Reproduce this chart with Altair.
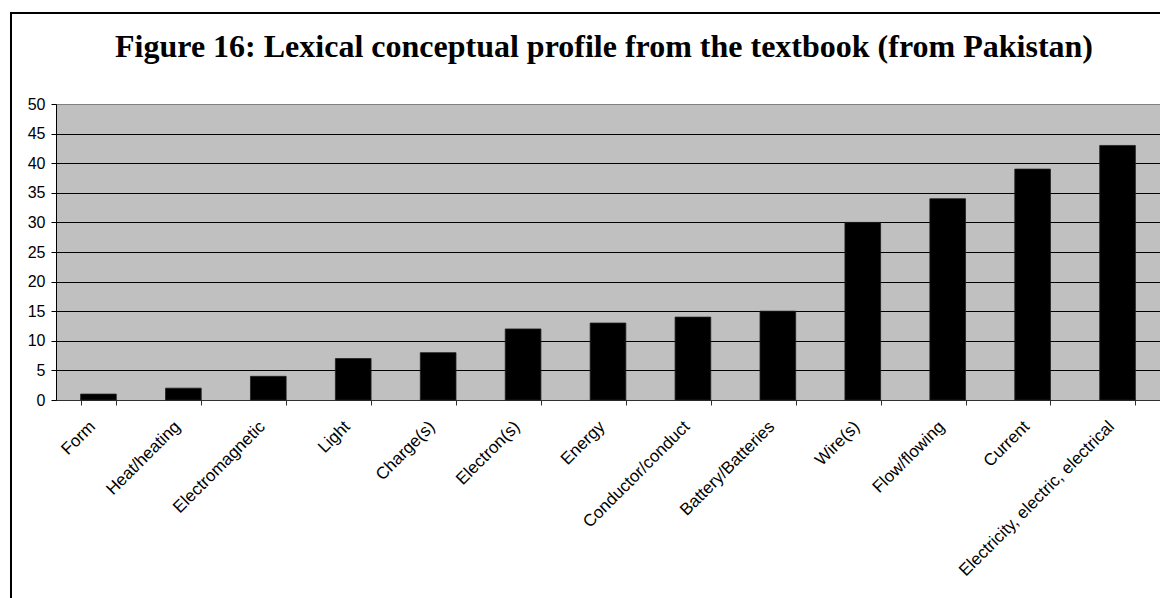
import altair as alt
import pandas as pd

# Word counts per concept
concepts = [
    "Form", "Heat/heating", "Electromagnetic", "Light", "Charge(s)",
    "Electron(s)", "Energy", "Conductor/conduct", "Battery/Batteries",
    "Wire(s)", "Flow/flowing", "Current", "Electricity, electric, electrical",
]
counts = [1, 2, 4, 7, 8, 12, 13, 14, 15, 30, 34, 39, 43]
y_ticks = list(range(0, 51, 5))

df = pd.DataFrame({"concept": concepts, "count": counts})

sans = "Liberation Sans"

bars = alt.Chart(df).mark_bar(
    color="black", stroke="#202020", strokeWidth=0.8
).encode(
    x=alt.X(
        "concept:N",
        sort=concepts,
        title=None,
        scale=alt.Scale(paddingInner=0.58, paddingOuter=0.29),
        axis=alt.Axis(
            labelAngle=-45,
            labelAlign="right",
            labelBaseline="top",
            labelOffset=-12,
            labelPadding=13,
            labelLimit=400,
            labelFont=sans,
            labelFontSize=17,
            labelColor="black",
            tickBand="extent",
            tickSize=5,
            tickColor="#303030",
            domainColor="#303030",
            grid=False,
        ),
    ),
    y=alt.Y(
        "count:Q",
        title=None,
        scale=alt.Scale(domain=[0, 50], nice=False),
        axis=alt.Axis(
            values=y_ticks,
            labelFont=sans,
            labelFontSize=16,
            labelColor="black",
            labelPadding=6,
            tickSize=5,
            tickColor="black",
            domainColor="black",
            gridColor={"condition": {"test": "datum.value == 50", "value": "#808080"}, "value": "black"},
            gridWidth=1,
        ),
    ),
)

# Outer figure frame (left and top edges)
frame_src = alt.Data(values=[{}])
frame_left = alt.Chart(frame_src).mark_rule(color="black", strokeWidth=2).encode(
    x=alt.value(-45), y=alt.value(-91), y2=alt.value(500)
)
frame_top = alt.Chart(frame_src).mark_rule(color="black", strokeWidth=2).encode(
    x=alt.value(-46), x2=alt.value(1110), y=alt.value(-91)
)

chart = alt.layer(bars, frame_left, frame_top).properties(
    width=1104,
    height=296,
    padding={"left": 56, "top": 104, "right": 0, "bottom": 198},
    autosize=alt.AutoSizeParams(type="none"),
    background="white",
    title=alt.TitleParams(
        "Figure 16: Lexical conceptual profile from the textbook (from Pakistan)",
        font="Liberation Serif",
        fontSize=32,
        fontWeight="bold",
        color="black",
        anchor="middle",
        baseline="alphabetic",
        offset=-77,
        dx=-4,
    ),
).configure_view(fill="#C0C0C0", stroke="#808080", strokeWidth=1)

chart.save("out.html", embed_options={"renderer": "svg", "actions": False})
